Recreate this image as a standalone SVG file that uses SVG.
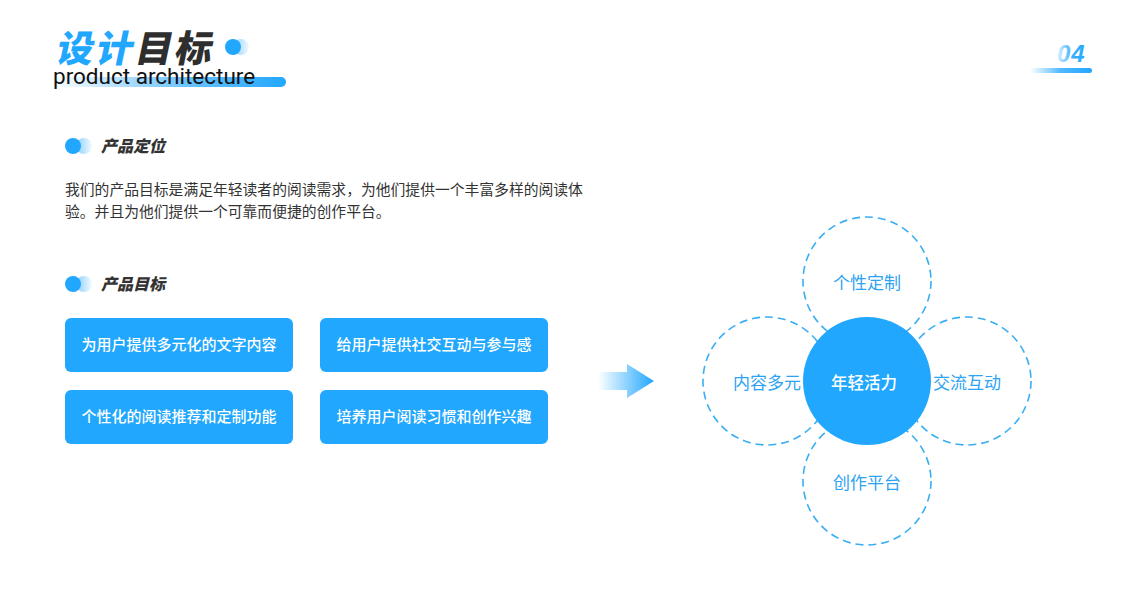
<svg xmlns="http://www.w3.org/2000/svg" width="1141" height="600" viewBox="0 0 1141 600">
<defs>
<linearGradient id="barG" x1="0" y1="0" x2="1" y2="0">
<stop offset="0" stop-color="#22A7FE" stop-opacity="0"/>
<stop offset="0.6" stop-color="#22A7FE" stop-opacity="0.7"/>
<stop offset="1" stop-color="#22A7FE"/>
</linearGradient>
<linearGradient id="dotG" x1="0" y1="0" x2="1" y2="0">
<stop offset="0" stop-color="#22A7FE" stop-opacity="0.55"/>
<stop offset="1" stop-color="#22A7FE" stop-opacity="0.05"/>
</linearGradient>
<linearGradient id="arrowG" x1="598" y1="0" x2="654" y2="0" gradientUnits="userSpaceOnUse">
<stop offset="0" stop-color="#22A7FE" stop-opacity="0"/>
<stop offset="1" stop-color="#22A7FE"/>
</linearGradient>
<linearGradient id="numG" x1="0" y1="0" x2="1" y2="0">
<stop offset="0" stop-color="#22A7FE" stop-opacity="0"/>
<stop offset="0.5" stop-color="#22A7FE" stop-opacity="0.8"/>
<stop offset="1" stop-color="#22A7FE"/>
</linearGradient>
<linearGradient id="numT" x1="1056" y1="0" x2="1092" y2="0" gradientUnits="userSpaceOnUse">
<stop offset="0" stop-color="#22A7FE" stop-opacity="0.1"/>
<stop offset="0.45" stop-color="#22A7FE" stop-opacity="0.9"/>
<stop offset="1" stop-color="#22A7FE"/>
</linearGradient>
</defs>
<style>
.cjk{font-family:"Noto Sans CJK SC","Noto Sans",sans-serif}
.hd{font-size:16px;font-weight:900;fill:#333;font-style:italic}
.para{font-size:14.8px;fill:#333}
.box{fill:#22A7FE}
.btxt{font-size:15px;fill:#fff;font-weight:500;text-anchor:middle}
.dash{fill:#fff;stroke:#3AAEF4;stroke-width:1.6;stroke-dasharray:8 5}
.ctxt{font-size:17px;fill:#2EA3F2;text-anchor:middle}
</style>
<rect width="1141" height="600" fill="#fff"/>

<g id="title">
<rect x="50" y="77" width="236" height="10" rx="5" fill="url(#barG)"/>
<text class="cjk" x="62" y="62" font-size="37" font-weight="900" transform="skewX(-12)" style="letter-spacing:2.5px"><tspan fill="#22A7FE" dx="6">设计</tspan><tspan fill="#2E2E2E">目标</tspan></text>
<circle cx="233" cy="47" r="8" fill="#22A7FE"/>
<circle cx="241" cy="47" r="8" fill="url(#dotG)"/>
<text x="53" y="84" font-family="Roboto,'Noto Sans',sans-serif" font-size="22.5" fill="#111">product architecture</text>
</g>

<g id="page-number">
<rect x="1030" y="68" width="62" height="5" rx="2.5" fill="url(#numG)"/>
<text x="1057" y="62" font-family="'Liberation Sans',sans-serif" font-size="24" font-weight="bold" font-style="italic" fill="url(#numT)" style="letter-spacing:1px">04</text>
</g>

<g id="section-positioning">
<circle cx="73" cy="146" r="8" fill="#22A7FE"/>
<circle cx="84" cy="146" r="8" fill="url(#dotG)"/>
<text class="cjk hd" x="101" y="152">产品定位</text>
<text class="cjk para" x="65" y="195">我们的产品目标是满足年轻读者的阅读需求，为他们提供一个丰富多样的阅读体</text>
<text class="cjk para" x="65" y="217">验。并且为他们提供一个可靠而便捷的创作平台。</text>
</g>

<g id="section-goals">
<circle cx="73" cy="284" r="8" fill="#22A7FE"/>
<circle cx="84" cy="284" r="8" fill="url(#dotG)"/>
<text class="cjk hd" x="101" y="290">产品目标</text>
</g>

<g id="goal-1"><rect class="box" x="65" y="318" width="228" height="54" rx="6"/><text class="cjk btxt" x="179" y="350">为用户提供多元化的文字内容</text></g>
<g id="goal-2"><rect class="box" x="320" y="318" width="228" height="54" rx="6"/><text class="cjk btxt" x="434" y="350">给用户提供社交互动与参与感</text></g>
<g id="goal-3"><rect class="box" x="65" y="390" width="228" height="54" rx="6"/><text class="cjk btxt" x="179" y="422">个性化的阅读推荐和定制功能</text></g>
<g id="goal-4"><rect class="box" x="320" y="390" width="228" height="54" rx="6"/><text class="cjk btxt" x="434" y="422">培养用户阅读习惯和创作兴趣</text></g>

<g id="connectors">
<path d="M598 372 H627 V364 L654 381 L627 398 V390 H598 Z" fill="url(#arrowG)"/>
</g>

<g id="petal-top"><circle class="dash" cx="867" cy="281" r="64"/><text class="cjk ctxt" x="867" y="289">个性定制</text></g>
<g id="petal-bottom"><circle class="dash" cx="867" cy="481" r="64"/><text class="cjk ctxt" x="867" y="489">创作平台</text></g>
<g id="petal-left"><circle class="dash" cx="767" cy="381" r="64"/><text class="cjk ctxt" x="767" y="389">内容多元</text></g>
<g id="petal-right"><circle class="dash" cx="967" cy="381" r="64"/><text class="cjk ctxt" x="967" y="389">交流互动</text></g>
<g id="center"><circle cx="867" cy="381" r="64" fill="#22A7FE"/><text class="cjk" x="864" y="389" font-size="16.5" font-weight="500" fill="#fff" text-anchor="middle">年轻活力</text></g>
</svg>
